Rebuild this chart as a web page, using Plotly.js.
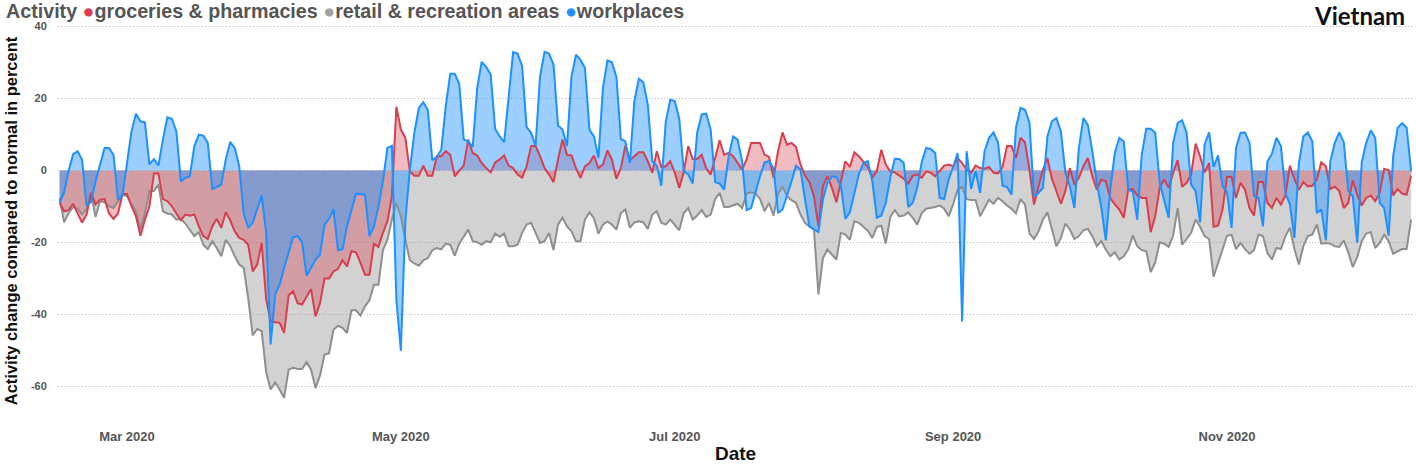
<!DOCTYPE html>
<html>
<head>
<meta charset="utf-8">
<script src="https://cdn.plot.ly/plotly-3.0.1.min.js"></script>
<style>
  html, body { margin: 0; padding: 0; background: #fff; }
  #chart { width: 1416px; height: 464px; }
</style>
</head>
<body>
<div id="chart"></div>
<script>
// Google mobility, Vietnam: daily values from 2020-02-15 to 2020-12-12
const firstDay = '2020-02-15';

const groceries = [
  -9, -11.3, -11, -9.2, -11.9, -14.4, -12.2, -6.2, -9.4, -8.1,
  -7.9, -11.9, -13.4, -11.9, -6.5, -6.5, -9.9, -12.7, -18.1, -13.6,
  -9.9, -0.8, -0.8, -7.9, -8.5, -9.9, -11.9, -13.8, -12.2, -12.5,
  -12.2, -15.5, -18.2, -19, -15.5, -13.4, -15.9, -11.6, -13.8, -16.9,
  -18.7, -19.2, -20.6, -28, -26.1, -20.1, -35.8, -41.9, -42.1, -42.3,
  -45.1, -34.7, -33.5, -36.8, -37.2, -35.1, -32.9, -40.5, -36.8, -30,
  -30, -28, -27.3, -24.9, -26.6, -22.4, -22.7, -25.6, -28.9, -28.9,
  -20.3, -21.2, -17.3, -14.1, -7.1, 17.7, 11.4, 9.1, -0.2, -1.4,
  -1.4, 1.4, -1.4, -1.4, 4, 4, 5.4, 4.4, -1.6, 0,
  1.4, 8.6, 4.9, 4.2, 2.1, 0.7, -0.5, 2.3, 3.1, 4.2,
  1.4, 0.7, -1.1, -2, 1.2, 6.8, 6.9, 4, 0.7, -1.1,
  -3.2, 3.1, 8.6, 4.4, 4.2, 0.7, -2, 1.2, 2.1, 4.2,
  0.7, 1.7, 5.6, 3.1, -2.3, 0.7, 6.9, 2.9, 4, 5.1,
  5.1, 2.6, -0.6, 5.4, 1, 1.2, 2.6, -0.6, -4.8, -0.5,
  6.8, 3.2, 3.2, 4.4, 0.7, -1.1, 3.5, 8.4, 4.4, 4.9,
  4, 2.1, 0.3, 3.1, 7.7, 7.7, 7.7, 4.4, 3.8, -2,
  5.4, 10.6, 7.2, 7.7, 6.6, 1.7, -1.4, -3.2, -7.1, -15.5,
  -4.4, -1.6, -4.8, -8.8, -3.4, 2.6, 1, 5.1, 4, 2.5,
  1, -2, -0.2, 5.8, 1.7, -0.2, -0.5, -1.4, -2.3, -3.6,
  -1.4, -1.1, -2, -0.2, -0.6, -1.6, -0.2, 1.4, 1.7, 1.2,
  3.5, 2.1, 0.3, -0.6, 1.4, 0.7, 0.5, 1, -0.6, -0.8,
  1, 6.8, 6.8, 3.5, 9.1, 7.9, 0.3, -9.4, -4.4, 0.3,
  3.5, -2.3, -5.7, -9.2, -5.7, 0.7, -3.9, -2, 1.2, 3.5,
  -1.6, -5.3, -2.5, -3, -7.6, -9.4, -10.8, -13.1, -5.3, -5.1,
  -6.9, -7.6, -7.6, -17.1, -12.7, -4.8, -2.5, -4.8, -0.6, 2.9,
  -4.5, -3.4, -1.1, 7.5, 4, -0.5, 2.1, -15.6, -15.3, -10.8,
  -1.8, -1.8, -7.6, -3.4, -5.3, -10.4, -12.5, -3.2, -3.2, -9,
  -10.4, -7.6, -9.4, -6.9, 1.4, -2.3, -5.3, -3.2, -4.4, -4.2,
  -2.5, 2.3, 1.2, -5.1, -4.5, -5.7, -10.4, -9, -2.7, -6.7,
  -9.7, -7.6, -6.9, -8.5, -6.2, 0.5, 0.1, -6.9, -5.1, -6.4,
  -6.7, -1.4,
];

const retail = [
  -7.6, -14.4, -11.8, -10.1, -10.6, -12.2, -10.6, -6.2, -12.9, -8.5,
  -8.8, -9.9, -10.4, -8.5, -6.7, -7.1, -9.4, -11.3, -16.4, -11.8,
  -5.7, -5.7, -3.9, -11.3, -11.9, -12.2, -13.6, -13.4, -14.7, -16.4,
  -18.2, -17.1, -20.6, -21.8, -19.6, -21.5, -23.8, -19.2, -21, -23.8,
  -26.1, -27, -35.4, -45.8, -44, -44.6, -56, -60.8, -58.8, -60.8,
  -63.1, -55.3, -54.8, -55.1, -55.1, -53.2, -55.3, -60.4, -56.9, -51.1,
  -50.8, -44.2, -43.1, -43.7, -45.1, -38.8, -38.8, -40.3, -37.7, -36,
  -31.7, -31.7, -22.1, -19.2, -13.6, -9, -12.7, -19.2, -24.9, -25.8,
  -26.4, -24.9, -24.3, -22.1, -21.5, -21.9, -20.3, -20.6, -23.6, -20.3,
  -18.2, -16.4, -19.6, -19.9, -20.6, -19.6, -19.9, -17.5, -18.4, -17.5,
  -21, -21, -20.6, -17.3, -15, -14.5, -17.3, -20.1, -19.6, -17.3,
  -22.1, -15, -13.1, -15.5, -16.9, -19.6, -19.6, -13.6, -11.6, -13.2,
  -17.5, -15, -14.1, -15, -16.4, -11.8, -10.8, -15.9, -14.4, -14.1,
  -14.4, -16.2, -12.2, -11.3, -14.5, -15, -13.6, -15, -16.6, -11.8,
  -10.4, -13.6, -12.5, -11, -12.9, -12.2, -7.9, -6.2, -10.1, -10.1,
  -9.7, -9.2, -10.4, -6.4, -6, -6.4, -7.9, -11.3, -9, -12.5,
  -6.4, -4.4, -7.1, -8.2, -9, -12.2, -14.5, -15.6, -16.4, -34.4,
  -24.3, -21.9, -23.3, -24.7, -17.3, -17.8, -19.2, -14.1, -14.5, -15.6,
  -16.7, -18.7, -15.6, -15.3, -20.3, -12.9, -11, -12.7, -12.5, -11.6,
  -13.1, -15, -11.8, -10.6, -10.4, -10.1, -9.7, -10.6, -12.7, -9.4,
  -5.3, -4.5, -7.9, -8.2, -8.2, -12.7, -10.4, -8.1, -9.2, -7.6,
  -8.5, -9.7, -10.6, -11.9, -7.9, -9.4, -17.5, -19, -16.9, -13.6,
  -11.6, -16.4, -21, -18.7, -14.7, -16.4, -19, -18.2, -16.6, -16.2,
  -18.2, -21, -19.6, -21.9, -23.8, -22.7, -24.7, -23.8, -21.9, -18,
  -21, -22.1, -22.4, -28.2, -25.5, -19.9, -20.3, -21.2, -18.1, -10.4,
  -20.6, -19, -17.3, -13.6, -15.6, -18.2, -19, -29.5, -25.6, -21.9,
  -18.1, -17.8, -21.8, -20.1, -21.8, -23.1, -22.1, -17.8, -18.2, -22.9,
  -24.7, -21.5, -21.8, -18.2, -15.9, -21.8, -26.1, -21, -18.2, -17.8,
  -15, -20.3, -20.1, -20.3, -21, -21.2, -19.4, -22.7, -26.8, -24,
  -19.6, -17.5, -17.1, -21.5, -20.1, -17.8, -19.6, -23.1, -22.4, -21.8,
  -21.8, -13.6,
];

const workplaces = [
  -9, -6, 0, 4.5, 5.4, 3, -9.7, -8.8, -3, 1.5,
  6.3, 6.3, 4.4, -8.1, -6.9, 2, 10.9, 15.8, 13.7, 13.4,
  1.7, 3.2, 1.4, 8.6, 14.8, 14.4, 10.9, -3, -2, -1.6,
  6.8, 10, 9.7, 7.7, -5.1, -4.6, -3.9, 3.1, 8, 6.3,
  1.2, -11.9, -15.9, -14.5, -10.5, -6.9, -17.3, -48.3, -34.4, -31.7,
  -27, -23, -18.5, -18.2, -19.9, -29.2, -27, -24.7, -23.3, -15,
  -13.4, -10.8, -22.1, -21.8, -15.5, -11, -6.4, -6.5, -6.7, -18.2,
  -15.5, -10, -3, 6.3, 6.9, -36, -50, -14, 0.3, 10.5,
  17.4, 19, 16.8, 2.9, 3.8, 5.8, 17.9, 26.9, 26.9, 24.1,
  8.6, 8.1, 6.6, 23, 30.2, 28.8, 26.7, 11.6, 9.5, 7.9,
  19.7, 32.9, 32.5, 29, 12.1, 10.5, 6.9, 26.2, 33, 32.5,
  29.4, 12.5, 11.4, 6.8, 26.2, 32.2, 30.8, 28.5, 11.4, 9.5,
  3.5, 23, 30.6, 30.1, 26, 8.8, 8.1, 2.1, 19.3, 25.5,
  24.5, 18.3, 2.6, 1.4, -4.2, 13.7, 19.7, 19.3, 14.4, -0.2,
  -1.1, -3.6, 10.6, 15.6, 15.8, 11.4, -3.2, -3.6, -5.3, 4,
  9.5, 8.6, 2.6, -11, -10.4, -5.7, -1.5, 2.3, 2.6, 0.7,
  -11.8, -10.8, -7.1, -3, 1.4, 0.3, -8, -15.5, -16.3, -17.1,
  -8, -3.4, -1.6, -1.8, -4.4, -13.4, -11.6, -6, -1, 2.1,
  2.6, -3, -13.1, -12.5, -9, -2, 3.3, 3.2, 2.1, -10.1,
  -9, -4.8, 2.3, 6.3, 6, 4.9, -7.6, -7.9, -2.5, 1,
  4.9, -41.9, 5.4, -5.1, -0.2, -6.2, 5.4, 9.1, 10.6, 7.8,
  -4.2, -4.6, -6.7, 12, 17.4, 16.9, 13.3, -7.2, -6.2, -4.8,
  9.5, 13.7, 14.6, 10.9, -0.6, -4.4, -10.4, 6.2, 14.6, 12.7,
  5.4, -3.5, -10.3, -19.4, -5.3, 4.9, 9.1, 8.1, -5.3, -5.8,
  -13.6, 4.4, 11.6, 11.6, 10.5, -3.4, -8, -13.1, 7.7, 13.2,
  14, 10.5, -3.9, -5.7, -14.4, 7.2, 10.6, 1, 4.2, -4.4,
  -6, -15.9, 6.3, 10.5, 10.6, 7.7, -7.1, -7.6, -15.5, 2.6,
  4.7, 9.1, 6.8, -6.2, -9.4, -18.7, 2.1, 9.5, 10.6, 8.1,
  -11.8, -10.8, -19.4, 2.6, 7.7, 10.6, 7.9, -5.7, -7.1, -20.1,
  2.3, 7.7, 11.2, 9.1, -9, -10.4, -18.1, 4, 11.9, 13.2,
  11.9, -0.2,
];

const yTicks = [-60, -40, -20, 0, 20, 40];

const SERIES = [
  // drawn bottom to top
  { name: 'retail & recreation areas', y: retail, line: '#8f8f8f', fill: 'rgba(143,143,143,0.4)' },
  { name: 'groceries & pharmacies', y: groceries, line: '#d6404e', fill: 'rgba(214,64,78,0.35)' },
  { name: 'workplaces', y: workplaces, line: '#1e90ff', fill: 'rgba(45,152,255,0.47)' },
];

function renderMobility() {
  const container = document.getElementById('chart');
  const start = new Date(firstDay + 'T00:00:00Z').getTime();
  const dates = workplaces.map((_, i) => new Date(start + i * 86400000).toISOString().slice(0, 10));

  // fills first, then every line on top of all fills
  const fills = SERIES.map((s) => ({
    x: dates,
    y: s.y,
    name: s.name,
    type: 'scatter',
    mode: 'none',
    fill: 'tozeroy',
    fillcolor: s.fill,
    hoverinfo: 'skip',
  }));
  const lines = SERIES.map((s) => ({
    x: dates,
    y: s.y,
    name: s.name,
    type: 'scatter',
    mode: 'lines',
    line: { color: s.line, width: 2 },
    hoverinfo: 'skip',
  }));

  const legendText =
    '<b>Activity <span style="color:#d6404e">●</span>groceries &amp; pharmacies ' +
    '<span style="color:#a3a3a3">●</span>retail &amp; recreation areas ' +
    '<span style="color:#1e90ff">●</span>workplaces</b>';

  const layout = {
    width: 1416,
    height: 464,
    margin: { l: 58, r: 3, t: 23, b: 45 },
    paper_bgcolor: '#ffffff',
    plot_bgcolor: '#ffffff',
    showlegend: false,
    font: { family: 'Liberation Sans, Arial, sans-serif', color: '#555' },
    xaxis: {
      type: 'date',
      range: ['2020-02-14 15:20', '2020-12-12 10:00'],
      tick0: '2020-03-01',
      dtick: 'M2',
      tickformat: '%b %Y',
      showgrid: false,
      zeroline: false,
      showline: false,
      ticks: 'outside',
      ticklen: 5,
      tickcolor: 'rgba(0,0,0,0)',
      tickfont: { size: 13, color: '#555', weight: 'bold' },
      title: { text: 'Date', font: { size: 19, color: '#111', weight: 'bold' }, standoff: 6 },
    },
    yaxis: {
      range: [-69, 41],
      tickmode: 'array',
      tickvals: yTicks,
      ticktext: yTicks.map(String),
      showgrid: true,
      gridcolor: '#bdbdbd',
      griddash: '1px,2px',
      gridwidth: 1,
      zeroline: false,
      showline: false,
      ticks: 'outside',
      ticklen: 8,
      tickcolor: 'rgba(0,0,0,0)',
      tickfont: { size: 11, color: '#555', weight: 'bold' },
      title: {
        text: 'Activity change compared to normal in percent',
        font: { size: 16.5, color: '#111', weight: 'bold' },
        standoff: 9,
      },
    },
    annotations: [
      {
        text: legendText,
        xref: 'paper',
        yref: 'paper',
        x: -0.0399,
        y: 1.031,
        xanchor: 'left',
        yanchor: 'middle',
        showarrow: false,
        font: { size: 19.7, color: '#555', family: 'Liberation Sans, Arial, sans-serif' },
      },
      {
        text: 'Vietnam',
        xref: 'paper',
        yref: 'paper',
        x: 0.9956,
        y: 1.0177,
        xanchor: 'right',
        yanchor: 'middle',
        showarrow: false,
        font: { size: 24, color: '#111', family: 'Lato, sans-serif', weight: 'bold' },
      },
    ],
  };

  Plotly.newPlot(container, [...fills, ...lines], layout, { displayModeBar: false, staticPlot: true });
}

renderMobility();
</script>
</body>
</html>
